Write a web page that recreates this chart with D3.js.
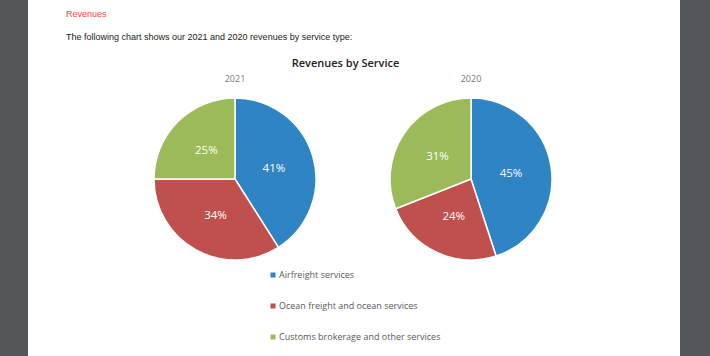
<!DOCTYPE html>
<html><head><meta charset="utf-8">
<script src="https://cdn.jsdelivr.net/npm/d3@7"></script>
<style>body{margin:0;background:#53575a;}svg{display:block}</style>
</head><body>
<svg id="c" width="710" height="356"></svg>
<script>
const categories = ["Airfreight services", "Ocean freight and ocean services", "Customs brokerage and other services"];
const years = ["2021", "2020"];
const values2021 = [41, 34, 25];
const values2020 = [45, 24, 31];
const colors = ["#2f84c4", "#c0504d", "#9bbb59"];

const svg = d3.select("#c");
svg.append("rect").attr("x", 0).attr("y", 0).attr("width", 710).attr("height", 356).attr("fill", "#53575a");
svg.append("rect").attr("x", 28).attr("y", 0).attr("width", 652).attr("height", 356).attr("fill", "#ffffff");

svg.append("text").attr("x", 66).attr("y", 17).attr("font-family", "Liberation Sans, Arial").attr("font-size", 9)
  .attr("fill", "#f0474a").text("Revenues");
svg.append("text").attr("x", 66).attr("y", 40).attr("font-family", "Liberation Sans, Arial").attr("font-size", 9)
  .attr("fill", "#222").text("The following chart shows our 2021 and 2020 revenues by service type:");

svg.append("text").attr("x", 345.5).attr("y", 67).attr("text-anchor", "middle").attr("font-family", "Open Sans, sans-serif")
  .attr("font-size", 11).attr("font-weight", 600).attr("fill", "#222").text("Revenues by Service");

const color = d3.scaleOrdinal().domain(categories).range(colors);
const pie = d3.pie().sort(null).value(d => d.v);
const r = 81;
const arc = d3.arc().innerRadius(0).outerRadius(r);
const labelArc = d3.arc().innerRadius(r * 0.5).outerRadius(r * 0.5);
const x = d3.scalePoint().domain(years).range([235, 471]);

[values2021, values2020].forEach((vals, i) => {
  const yr = years[i];
  const data = categories.map((c, j) => ({c, v: vals[j]}));
  const g = svg.append("g").attr("transform", `translate(${x(yr)},179)`);
  svg.append("text").attr("x", x(yr)).attr("y", 82).attr("text-anchor", "middle")
    .attr("font-family", "Open Sans, sans-serif").attr("font-size", 9).attr("fill", "#777").text(yr);
  const arcs = pie(data);
  g.selectAll("path").data(arcs).join("path").attr("d", arc).attr("fill", d => color(d.data.c))
    .attr("stroke", "#fff").attr("stroke-width", 1.5);
  g.selectAll("text").data(arcs).join("text")
    .attr("transform", d => `translate(${labelArc.centroid(d)})`)
    .attr("text-anchor", "middle").attr("dy", "0.35em")
    .attr("font-family", "Open Sans, sans-serif").attr("font-size", 11.5).attr("fill", "#fff")
    .text(d => d.data.v + "%");
});

const ly = d3.scalePoint().domain(categories).range([275, 337]);
const lg = svg.append("g");
categories.forEach(c => {
  lg.append("rect").attr("x", 270.5).attr("y", ly(c) - 2.5).attr("width", 5).attr("height", 5).attr("fill", color(c));
  lg.append("text").attr("x", 279).attr("y", ly(c)).attr("dy", "0.35em")
    .attr("font-family", "Open Sans, sans-serif").attr("font-size", 9).attr("fill", "#595959").text(c);
});
</script>
</body></html>
